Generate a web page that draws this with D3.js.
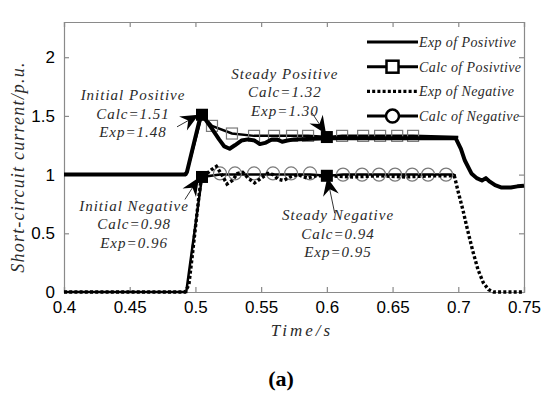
<!DOCTYPE html>
<html><head><meta charset="utf-8">
<script src="https://cdn.jsdelivr.net/npm/d3@7/dist/d3.min.js"></script>
<style>
body{margin:0;background:#fff;}
svg{display:block;}
</style></head>
<body><svg id="chart" width="550" height="399"></svg>
<script>
// ---------- data ----------
const xTicks = [0.4, 0.45, 0.5, 0.55, 0.6, 0.65, 0.7, 0.75];
const yTicks = [0, 0.5, 1, 1.5, 2];
const xTickLabels = ["0.4","0.45","0.5","0.55","0.6","0.65","0.7","0.75"];
const yTickLabels = ["0","0.5","1","1.5","2"];

const expPosT = [0.4,0.492,0.4935,0.5035,0.507,0.512,0.518,0.522,0.526,0.530,0.535,0.540,0.545,0.549,0.553,0.558,0.562,0.566,0.570,0.575,0.60,0.65,0.698,0.702,0.705,0.710,0.714,0.718,0.721,0.724,0.728,0.733,0.740,0.745,0.75];
const expPosV = [1.0,1.0,1.02,1.48,1.48,1.40,1.30,1.24,1.22,1.25,1.29,1.30,1.29,1.26,1.27,1.30,1.30,1.28,1.29,1.30,1.31,1.31,1.31,1.22,1.12,1.01,0.97,0.95,0.97,0.94,0.91,0.89,0.89,0.90,0.905];

const calcPosT = [0.4,0.493,0.505,0.5126,0.5278,0.5446,0.5598,0.5735,0.5857,0.601,0.6116,0.6276,0.6405,0.6535,0.6656,0.70];
const calcPosV = [1.0,1.0,1.51,1.415,1.35,1.33,1.33,1.33,1.33,1.32,1.33,1.33,1.33,1.33,1.33,1.32];
const calcPosMarkT = [0.5126,0.5278,0.5446,0.5598,0.5735,0.5857,0.6116,0.6276,0.6405,0.6535,0.6656];
const calcPosMarkV = [1.415,1.35,1.33,1.33,1.33,1.33,1.33,1.33,1.33,1.33,1.33];

const expNegT = [0.4,0.492,0.4935,0.495,0.4975,0.500,0.5025,0.5045,0.508,0.512,0.516,0.520,0.524,0.528,0.532,0.536,0.540,0.545,0.550,0.555,0.559,0.563,0.567,0.572,0.578,0.585,0.592,0.60,0.62,0.64,0.66,0.68,0.697,0.700,0.7035,0.707,0.711,0.715,0.719,0.723,0.727,0.75];
const expNegV = [0,0,0.03,0.06,0.3,0.55,0.8,0.98,1.0,1.04,1.07,1.0,0.92,0.95,1.01,1.02,0.97,0.93,0.97,1.01,1.0,0.96,0.95,0.98,1.0,0.97,0.99,0.99,0.98,0.99,0.98,0.99,0.99,0.85,0.70,0.53,0.35,0.19,0.08,0.02,0,0];

const calcNegT = [0.4,0.493,0.505,0.5187,0.5301,0.5446,0.559,0.5728,0.5872,0.601,0.6123,0.6268,0.6397,0.6519,0.6649,0.677,0.6907,0.697];
const calcNegV = [0,0,0.98,1.0,1.0,1.0,1.0,1.0,1.0,0.99,1.0,1.0,1.0,1.0,1.0,1.0,1.0,1.0];
const calcNegMarkT = [0.5187,0.5301,0.5446,0.559,0.5728,0.5872,0.6123,0.6268,0.6397,0.6519,0.6649,0.677,0.6907];
const calcNegMarkV = [1.01,1.01,1.01,1.01,1.01,1.01,1.0,1.0,1.0,1.0,1.0,1.0,1.0];

const keyPointT = [0.505,0.60,0.505,0.60];
const keyPointV = [1.51,1.32,0.98,0.99];

const legendLabels = ["Exp of Posivtive","Calc of Posivtive","Exp of Negative","Calc of Negative"];

const annoLines = [
  ["Initial Positive","Calc=1.51","Exp=1.48"],
  ["Steady Positive","Calc=1.32","Exp=1.30"],
  ["Initial Negative","Calc=0.98","Exp=0.96"],
  ["Steady Negative","Calc=0.94","Exp=0.95"]
];
const annoTextT = [0.4525,0.568,0.4533,0.6085];
const annoTextV = [1.68,1.86,0.737,0.655];
const arrowFromT = [0.486,0.5887,0.492,0.606];
const arrowFromV = [1.407,1.525,0.788,0.67];
const arrowToT = [0.5025,0.5994,0.5027,0.6003];
const arrowToV = [1.51,1.345,0.975,0.975];

// ---------- layout ----------
const svg = d3.select("#chart");
const m = {left:64, top:22, right:26, bottom:107};
const W = 550 - m.left - m.right, H = 399 - m.top - m.bottom;
const x = d3.scaleLinear().domain([0.4,0.75]).range([m.left, m.left+W]);
const y = d3.scaleLinear().domain([0,2.3]).range([m.top+H, m.top]);

const axisColor = "#8a8a8a";
const tickFont = "'Liberation Sans', Arial, sans-serif";
const serif = "'Liberation Serif','DejaVu Serif',serif";

// axes (box with inward ticks)
const gx = svg.append("g").attr("transform",`translate(0,${m.top+H})`)
  .call(d3.axisBottom(x).tickValues(xTicks).tickSize(-5).tickPadding(9).tickFormat((d,i)=>xTickLabels[i]));
const gxt = svg.append("g").attr("transform",`translate(0,${m.top})`)
  .call(d3.axisTop(x).tickValues(xTicks).tickSize(-5).tickFormat(""));
const gy = svg.append("g").attr("transform",`translate(${m.left},0)`)
  .call(d3.axisLeft(y).tickValues(yTicks).tickSize(-5).tickPadding(9).tickFormat((d,i)=>yTickLabels[i]));
const gyr = svg.append("g").attr("transform",`translate(${m.left+W},0)`)
  .call(d3.axisRight(y).tickValues(yTicks).tickSize(-5).tickFormat(""));
[gx,gxt,gy,gyr].forEach(g=>{
  g.selectAll("path.domain").attr("stroke",axisColor).attr("stroke-width",1.2);
  g.selectAll(".tick line").attr("stroke",axisColor).attr("stroke-width",1.2);
  g.selectAll("text").attr("fill","#000").style("font-family",tickFont).style("font-size","17px");
});

// lines
const line = d3.line().x(d=>x(d[0])).y(d=>y(d[1]));
const zip = (a,b)=>a.map((v,i)=>[v,b[i]]);

// calc lines
svg.append("path").attr("d",line(zip(calcPosT,calcPosV))).attr("fill","none").attr("stroke","#000").attr("stroke-width",2.5);
svg.append("path").attr("d",line(zip(calcNegT,calcNegV))).attr("fill","none").attr("stroke","#000").attr("stroke-width",2.5);

// calc markers
const markColor = "#7a7a7a";
svg.append("g").selectAll("rect").data(zip(calcPosMarkT,calcPosMarkV)).join("rect")
  .attr("x",d=>x(d[0])-5.5).attr("y",d=>y(d[1])-5.5).attr("width",11).attr("height",11)
  .attr("fill","none").attr("stroke",markColor).attr("stroke-width",1.2);
svg.append("g").selectAll("circle").data(zip(calcNegMarkT,calcNegMarkV)).join("circle")
  .attr("cx",d=>x(d[0])).attr("cy",d=>y(d[1])).attr("r",6.5)
  .attr("fill","none").attr("stroke",markColor).attr("stroke-width",1.2);

// exp lines
svg.append("path").attr("d",line(zip(expNegT,expNegV))).attr("fill","none").attr("stroke","#000").attr("stroke-width",3.4).attr("stroke-dasharray","3,2.2");
svg.append("path").attr("d",line(zip(expPosT,expPosV))).attr("fill","none").attr("stroke","#000").attr("stroke-width",4).attr("stroke-linejoin","round");

// key points
svg.append("g").selectAll("rect").data(zip(keyPointT,keyPointV)).join("rect")
  .attr("x",d=>x(d[0])-6).attr("y",d=>y(d[1])-6).attr("width",12).attr("height",12).attr("fill","#000");

// arrows
function arrow(x1,y1,x2,y2){
  const ang = Math.atan2(y2-y1,x2-x1);
  const L=18, Wd=8, back=12;
  const pts = [[0,0],[-L,-Wd],[-back,0],[-L,Wd]].map(([px,py])=>[
    x2 + px*Math.cos(ang) - py*Math.sin(ang),
    y2 + px*Math.sin(ang) + py*Math.cos(ang)]);
  svg.append("line").attr("x1",x1).attr("y1",y1).attr("x2",x2-10*Math.cos(ang)).attr("y2",y2-10*Math.sin(ang))
    .attr("stroke","#333").attr("stroke-width",1);
  svg.append("path").attr("d","M"+pts.map(p=>p.join(",")).join("L")+"Z").attr("fill","#000");
}
for(let i=0;i<4;i++) arrow(x(arrowFromT[i]),y(arrowFromV[i]),x(arrowToT[i]),y(arrowToV[i]));

// annotations
annoLines.forEach((lines,i)=>{
  const t = svg.append("text").attr("x",x(annoTextT[i])).attr("y",y(annoTextV[i]))
    .attr("text-anchor","middle").attr("fill","#2a2a2a")
    .style("font-family",serif).style("font-style","italic").style("font-size","15px").style("letter-spacing","1px");
  lines.forEach((s,j)=>t.append("tspan").attr("x",x(annoTextT[i])).attr("dy",j===0?"0.35em":"18.5px").text(s));
});

// legend
const lgX0 = 367, lgX1 = 418, lgY0 = 42, lgDy = 24.7;
legendLabels.forEach((s,i)=>{
  const yy = lgY0 + i*lgDy;
  const ln = svg.append("line").attr("x1",lgX0).attr("x2",lgX1).attr("y1",yy).attr("y2",yy)
    .attr("stroke","#000").attr("stroke-width",3);
  if(i===2) ln.attr("stroke-dasharray","3,2.2").attr("stroke-width",3.2);
  if(i===1) svg.append("rect").attr("x",(lgX0+lgX1)/2-6).attr("y",yy-6).attr("width",12).attr("height",12)
    .attr("fill","#fff").attr("stroke","#000").attr("stroke-width",2.5);
  if(i===3) svg.append("circle").attr("cx",(lgX0+lgX1)/2).attr("cy",yy).attr("r",6.5)
    .attr("fill","#fff").attr("stroke","#000").attr("stroke-width",2.5);
  svg.append("text").attr("x",lgX1+1).attr("y",yy).attr("dy","0.35em").attr("fill","#2a2a2a")
    .style("font-family",serif).style("font-style","italic").style("font-size","14px").style("letter-spacing","0.4px")
    .text(s);
});

// axis titles
svg.append("text").attr("transform",`translate(24,${m.top+H/2+10}) rotate(-90)`)
  .attr("text-anchor","middle").attr("fill","#2a2a2a")
  .style("font-family",serif).style("font-style","italic").style("font-size","18px").style("letter-spacing","1.2px")
  .text("Short-circuit current/p.u.");
svg.append("text").attr("x",302).attr("y",336).attr("text-anchor","middle").attr("fill","#2a2a2a")
  .style("font-family",serif).style("font-style","italic").style("font-size","17px").style("letter-spacing","3px")
  .text("Time/s");
svg.append("text").attr("x",281).attr("y",386).attr("text-anchor","middle").attr("fill","#000")
  .style("font-family",serif).style("font-weight","bold").style("font-size","22px")
  .text("(a)");
</script></body></html>
